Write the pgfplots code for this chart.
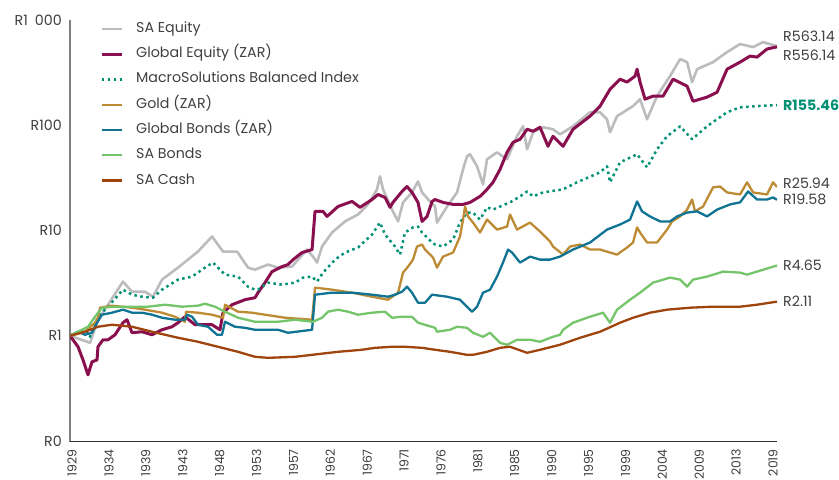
\documentclass[border=0pt]{standalone}
\usepackage{fontspec}
\setmainfont{Poppins}
\usepackage{pgfplots}
\pgfplotsset{compat=1.18}
\definecolor{saeq}{HTML}{BCBCBE}
\definecolor{gleq}{HTML}{8A0F4E}
\definecolor{macro}{HTML}{009174}
\definecolor{gold}{HTML}{BE8B35}
\definecolor{glbond}{HTML}{0F7393}
\definecolor{sabond}{HTML}{74C46A}
\definecolor{cash}{HTML}{9E440C}
\definecolor{txt}{HTML}{404040}
\begin{document}
\begin{tikzpicture}
\begin{axis}[
  scale only axis, width=707bp, height=421bp,
  xmin=1929, xmax=2019.75,
  ymode=log, ymin=0.1, ymax=1000,
  axis x line=bottom, axis y line=left,
  x axis line style={-, draw=black!80, line width=0.9bp},
  y axis line style={-, draw=black!50, line width=1.3bp},
  major tick length=0pt,
  xtick={1929.26,1934.0,1938.73,1943.47,1948.2,1952.94,1957.68,1962.41,1967.15,1971.88,1976.62,1981.35,1986.09,1990.83,1995.56,2000.3,2005.03,2009.77,2014.5,2019.24},
  xticklabels={1929,1934,1939,1943,1948,1953,1957,1962,1967,1971,1976,1981,1985,1990,1995,1999,2004,2009,2013,2019},
  xticklabel style={rotate=90, anchor=east, inner sep=0pt, font=\fontsize{12.5}{14}\selectfont, text=txt},
  xticklabel shift=8bp,
  ytick={0.1,1,10,100,1000},
  yticklabels={R0,R1,R10,R100,R1\enspace000},
  yticklabel style={anchor=east, inner sep=0pt, font=\fontsize{14.3}{16}\selectfont, text=txt},
  yticklabel shift=8bp,
  clip mode=individual,
  legend cell align=left,
  legend image code/.code={\draw[#1, line cap=butt] (0bp,0bp) -- (20bp,0bp);},
  legend style={at={(rel axis cs:0.0424,0.995)}, anchor=north west, draw=none, fill=none, inner sep=0pt,
    font=\fontsize{14.3}{16}\selectfont, text=txt,
    nodes={inner sep=0pt, text height=10bp, text depth=3bp},
    row sep=12.3bp,
    /tikz/every odd column/.append style={column sep=13bp}},
  every axis plot/.append style={line join=round},
]
\addplot[saeq, line width=2.6bp] coordinates {
(1929.0,1.0) (1931.57,0.858) (1932.59,1.42) (1933.88,1.97) (1935.80,3.27) (1936.96,2.62) (1938.63,2.62) (1939.65,2.35) (1940.81,3.41) (1942.86,4.44) (1945.43,6.31) (1947.23,8.77) (1948.64,6.31) (1950.44,6.31) (1951.85,4.44) (1952.75,4.25) (1954.42,4.745) (1955.70,4.44) (1957.50,4.54) (1958.27,5.29) (1959.42,6.59) (1960.19,5.65) (1960.71,4.96) (1961.35,7.04) (1962.63,9.57) (1964.30,12.2) (1965.97,14.2) (1967.25,17.7) (1968.41,24.6) (1968.79,32.7) (1969.18,24.6) (1970.34,15.8) (1971.11,12.2) (1971.75,18.5) (1972.90,23.0) (1973.67,29.3) (1974.19,23.0) (1975.21,18.9) (1975.86,16.9) (1976.11,11.9) (1977.40,16.9) (1978.68,23.0) (1979.45,38.1) (1979.96,50.7) (1980.35,53.0) (1981.25,40.7) (1982.02,27.4) (1982.53,47.5) (1983.81,55.3) (1985.10,47.5) (1986.38,78.6) (1987.15,97.8) (1987.67,59.1) (1988.44,85.8) (1989.72,95.7) (1991.00,91.6) (1991.90,82) (1993.57,97.8) (1995.75,133) (1997.04,133) (1997.93,114) (1998.32,85.8) (1999.22,122) (2001.27,152) (2002.17,177) (2003.07,114) (2004.35,189) (2006.02,293) (2007.31,425) (2008.21,398) (2008.85,257) (2009.49,341) (2011.54,398) (2013.34,496) (2015.01,591) (2016.68,553) (2017.96,617) (2019.75,563.14)
};
\addlegendentry{SA Equity}
\addplot[gleq, line width=3bp] coordinates {
(1929.0,1.0) (1930.03,0.786) (1930.67,0.59) (1931.31,0.425) (1931.82,0.565) (1932.47,0.59) (1932.59,0.786) (1933.24,0.916) (1933.88,0.916) (1934.78,1.022) (1935.80,1.33) (1936.32,1.42) (1936.96,1.068) (1938.24,1.092) (1939.53,1.022) (1940.81,1.14) (1942.09,1.218) (1942.86,1.33) (1943.76,1.517) (1945.05,1.273) (1947.23,1.273) (1948.26,1.14) (1948.64,1.656) (1949.80,1.973) (1951.46,2.2) (1952.75,2.3) (1953.13,2.567) (1954.03,3.197) (1954.93,4.07) (1956.21,4.54) (1956.98,4.745) (1957.63,5.29) (1958.78,6.17) (1960.07,6.59) (1960.45,15.2) (1961.48,15.2) (1961.99,13.6) (1963.40,16.9) (1965.20,18.9) (1966.23,16.6) (1967.77,19.7) (1968.54,22.0) (1969.44,20.6) (1970.08,16.6) (1970.46,18.5) (1971.62,23.5) (1972.26,26.2) (1972.90,23.0) (1973.67,18.5) (1974.19,12.2) (1974.83,13.6) (1975.47,18.9) (1975.86,19.7) (1976.88,18.5) (1978.17,17.7) (1979.45,17.7) (1980.35,18.5) (1981.63,21.1) (1982.53,24.6) (1983.30,28.7) (1984.20,38.1) (1985.10,55.3) (1985.87,68.9) (1986.77,73.6) (1987.67,91.6) (1988.44,87.7) (1989.33,95.7) (1990.36,63.1) (1991.00,78.6) (1992.29,63.1) (1993.57,91.6) (1995.75,122) (1997.04,152) (1998.32,220) (1999.60,274) (2000.50,257) (2001.53,293) (2001.79,341) (2002.17,257) (2002.81,177) (2003.84,189) (2005.12,189) (2006.41,274) (2008.21,235) (2008.97,169) (2010.77,185) (2012.06,206) (2013.34,341) (2015.01,398) (2016.29,454) (2017.19,444) (2018.47,530) (2019.75,556.14)
};
\addlegendentry{Global Equity (ZAR)}
\addplot[macro, line width=2.5bp, dash pattern=on 2.5bp off 3.5bp] coordinates {
(1929.0,1.0) (1930.93,1.14) (1931.57,0.978) (1932.59,1.517) (1933.88,1.889) (1935.80,2.741) (1936.96,2.456) (1938.24,2.35) (1939.65,2.3) (1940.81,2.741) (1942.86,3.415) (1944.66,3.648) (1946.33,4.44) (1947.36,4.96) (1948.90,3.81) (1950.57,3.648) (1951.85,2.928) (1952.75,2.741) (1953.13,2.741) (1954.42,3.197) (1956.21,3.06) (1957.88,3.197) (1958.91,3.569) (1960.07,3.648) (1960.71,3.268) (1961.48,3.98) (1963.02,5.29) (1964.30,6.17) (1965.97,6.89) (1967.77,9.16) (1968.79,11.9) (1969.44,9.16) (1970.72,7.04) (1971.36,5.9) (1972.00,9.57) (1973.03,10.7) (1973.67,10.9) (1974.19,9.57) (1975.47,7.69) (1975.86,7.36) (1976.88,7.04) (1978.17,8.21) (1979.06,11.9) (1979.96,14.8) (1980.73,14.8) (1981.63,12.7) (1982.53,16.6) (1983.30,15.8) (1984.20,16.9) (1985.48,18.5) (1986.77,21.1) (1987.67,23.5) (1988.44,21.1) (1989.72,23.0) (1992.29,24.6) (1994.08,28.7) (1997.04,35.7) (1997.93,40.7) (1998.32,28.7) (1999.60,44.4) (2001.79,53.0) (2003.07,39.8) (2004.35,59.1) (2005.64,78.6) (2007.31,97.8) (2008.85,73.6) (2010.77,97.8) (2013.34,133) (2015.01,148) (2017.19,152) (2019.75,155.46)
};
\addlegendentry{MacroSolutions Balanced Index}
\addplot[gold, line width=2.3bp] coordinates {
(1929.0,1.0) (1930.93,1.092) (1932.21,1.33) (1932.59,1.483) (1932.85,1.848) (1934.39,1.931) (1935.68,1.889) (1936.96,1.848) (1938.63,1.769) (1940.81,1.656) (1942.48,1.517) (1943.76,1.359) (1943.89,1.693) (1945.43,1.656) (1947.23,1.585) (1948.64,1.483) (1948.90,1.973) (1950.57,1.693) (1952.36,1.656) (1954.03,1.585) (1956.60,1.483) (1960.07,1.42) (1960.45,2.865) (1962.63,2.741) (1965.20,2.567) (1967.77,2.35) (1969.82,2.2) (1971.11,2.567) (1971.75,3.98) (1972.39,4.54) (1973.03,5.29) (1973.54,7.04) (1974.19,7.36) (1974.57,6.59) (1975.60,5.53) (1976.11,4.44) (1976.88,5.65) (1978.17,6.17) (1979.06,8.77) (1979.45,12.7) (1979.71,16.9) (1980.09,13.6) (1980.73,11.9) (1981.63,9.57) (1982.53,12.7) (1983.81,10.2) (1985.10,10.9) (1985.48,14.2) (1986.38,10.2) (1988.05,11.9) (1989.33,9.78) (1990.62,7.86) (1991.00,7.04) (1992.29,5.9) (1993.18,7.04) (1994.47,7.36) (1995.75,6.59) (1997.04,6.59) (1998.32,6.17) (1999.22,5.9) (2000.50,6.89) (2001.27,7.69) (2001.79,10.7) (2002.17,9.57) (2003.07,7.69) (2004.35,7.69) (2005.64,10.2) (2006.28,12.2) (2007.31,13.6) (2008.21,15.8) (2008.85,19.7) (2009.23,15.2) (2010.26,16.9) (2011.54,25.7) (2012.44,26.2) (2013.34,23.0) (2015.01,22.0) (2015.91,28.7) (2016.68,23.0) (2018.47,22.0) (2019.24,28.7) (2019.75,25.94)
};
\addlegendentry{Gold (ZAR)}
\addplot[glbond, line width=2.3bp] coordinates {
(1929.0,1.0) (1930.03,1.092) (1930.93,1.022) (1931.82,1.068) (1932.47,1.33) (1933.11,1.585) (1934.39,1.656) (1935.80,1.769) (1936.96,1.656) (1938.24,1.656) (1939.53,1.585) (1940.81,1.483) (1942.48,1.42) (1943.76,1.42) (1944.02,1.585) (1944.66,1.517) (1945.43,1.273) (1946.72,1.218) (1947.87,1.022) (1948.51,1.022) (1948.90,1.359) (1950.18,1.218) (1951.46,1.19) (1952.75,1.14) (1953.65,1.14) (1955.70,1.14) (1956.98,1.068) (1960.07,1.14) (1960.45,2.456) (1962.63,2.567) (1965.20,2.567) (1967.77,2.456) (1969.82,2.35) (1970.72,2.456) (1971.62,2.624) (1972.26,2.928) (1972.90,2.567) (1973.67,2.061) (1974.57,2.061) (1975.47,2.456) (1977.40,2.35) (1979.06,2.2) (1979.96,1.889) (1980.60,1.693) (1981.25,1.889) (1982.02,2.567) (1982.92,2.741) (1983.81,3.648) (1984.58,4.96) (1985.23,6.59) (1985.74,6.17) (1986.77,4.96) (1988.05,5.65) (1989.33,5.29) (1990.62,5.29) (1991.90,5.65) (1993.57,6.59) (1995.75,7.69) (1997.93,10.2) (1999.60,11.4) (2000.89,12.7) (2001.79,18.9) (2002.43,15.2) (2003.45,13.6) (2004.74,12.2) (2006.02,12.2) (2006.92,13.6) (2008.21,14.8) (2009.49,15.2) (2010.77,13.6) (2012.06,15.8) (2013.73,17.7) (2015.01,18.5) (2016.04,23.5) (2017.19,19.7) (2018.47,19.7) (2019.24,20.6) (2019.75,19.58)
};
\addlegendentry{Global Bonds (ZAR)}
\addplot[sabond, line width=2.3bp] coordinates {
(1929.0,1.0) (1931.31,1.218) (1932.21,1.517) (1933.11,1.848) (1934.78,1.889) (1936.96,1.889) (1939.01,1.889) (1941.2,1.973) (1943.38,1.889) (1945.43,1.931) (1946.33,2.017) (1947.61,1.889) (1948.90,1.693) (1950.57,1.483) (1952.75,1.359) (1953.65,1.359) (1955.70,1.359) (1957.88,1.42) (1960.19,1.359) (1961.35,1.483) (1962.12,1.693) (1963.40,1.769) (1964.69,1.693) (1965.97,1.585) (1967.77,1.656) (1969.44,1.693) (1970.34,1.483) (1971.62,1.517) (1972.90,1.517) (1973.67,1.33) (1975.86,1.19) (1976.11,1.092) (1977.78,1.14) (1978.68,1.218) (1979.96,1.19) (1980.73,1.068) (1982.02,0.978) (1982.92,1.068) (1984.20,0.858) (1985.10,0.821) (1986.38,0.916) (1988.05,0.916) (1989.33,0.877) (1991.00,0.978) (1991.90,1.022) (1992.29,1.14) (1993.57,1.33) (1995.75,1.517) (1997.42,1.656) (1998.32,1.33) (1999.22,1.769) (2000.89,2.2) (2002.17,2.567) (2003.84,3.197) (2006.02,3.569) (2007.31,3.415) (2008.21,2.928) (2008.97,3.415) (2010.77,3.648) (2012.83,4.07) (2015.01,3.98) (2015.91,3.81) (2017.19,4.07) (2019.75,4.65)
};
\addlegendentry{SA Bonds}
\addplot[cash, line width=2.3bp] coordinates {
(1929.0,1.0) (1930.93,1.092) (1932.59,1.218) (1934.39,1.273) (1936.96,1.218) (1939.53,1.092) (1941.2,1.022) (1942.86,0.957) (1945.43,0.877) (1948.00,0.786) (1950.57,0.704) (1952.75,0.631) (1954.42,0.617) (1957.88,0.631) (1960.07,0.659) (1963.40,0.704) (1966.48,0.736) (1968.15,0.768) (1970.34,0.786) (1972.00,0.786) (1974.19,0.768) (1975.86,0.736) (1977.78,0.704) (1979.96,0.659) (1980.73,0.659) (1982.53,0.704) (1984.20,0.768) (1985.48,0.786) (1987.67,0.689) (1989.33,0.736) (1991.90,0.821) (1994.47,0.957) (1997.04,1.092) (1999.60,1.33) (2001.27,1.483) (2003.45,1.656) (2005.64,1.769) (2008.59,1.848) (2011.54,1.889) (2015.01,1.889) (2017.19,1.973) (2019.75,2.11)
};
\addlegendentry{SA Cash}
\begin{scope}[every node/.style={anchor=west, inner sep=0pt, font=\fontsize{14.3}{16}\selectfont, text=txt, xshift=6bp}]
\node[yshift=10bp] at (axis cs:2019.75,563.14) {R563.14};
\node[yshift=-8bp] at (axis cs:2019.75,556.14) {R556.14};
\node[text=macro, font=\fontsize{14.3}{16}\selectfont\bfseries] at (axis cs:2019.75,155.46) {R155.46};
\node[yshift=4bp] at (axis cs:2019.75,25.94) {R25.94};
\node[yshift=0bp] at (axis cs:2019.75,19.58) {R19.58};
\node at (axis cs:2019.75,4.65) {R4.65};
\node at (axis cs:2019.75,2.11) {R2.11};
\end{scope}
\end{axis}
\pgfresetboundingbox
\path[use as bounding box] ([xshift=-70bp,yshift=-38bp]current axis.south west) rectangle ([xshift=62bp,yshift=20bp]current axis.north east);
\end{tikzpicture}
\end{document}
